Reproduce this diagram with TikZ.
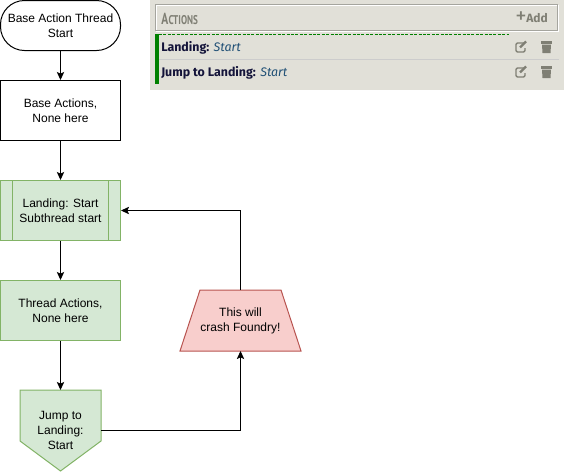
\documentclass[tikz,border=0pt]{standalone}
\usepackage{fontspec}
\setmainfont{Liberation Sans}
\newfontfamily\panelfont{Fira Sans}
\newfontfamily\headfont{PT Sans}
\usepackage{xcolor}
\usepackage{graphicx}
\usetikzlibrary{arrows.meta,positioning,calc,backgrounds}
\definecolor{panelbg}{HTML}{E1E0D8}
\definecolor{flowgreen}{HTML}{D5E8D4}
\definecolor{flowgreenline}{HTML}{82B366}
\definecolor{crashred}{HTML}{F8CECC}
\definecolor{crashline}{HTML}{B85450}
\definecolor{paneldark}{HTML}{14143A}
\definecolor{panelblue}{HTML}{1F4F75}
\definecolor{panelgrey}{HTML}{7F7F74}
\definecolor{panelgreen}{HTML}{008000}
\tikzset{
  flownode/.style={draw=black,fill=white,line width=0.75pt,align=center,font=\fontsize{9}{11.25}\selectfont,
    text=black,inner sep=0pt},
  flowbox/.style={flownode,rectangle,minimum width=90pt,minimum height=45pt},
  greenbox/.style={flowbox,fill=flowgreen,draw=flowgreenline},
  subbox/.style={greenbox,path picture={
    \draw[flowgreenline,line width=0.75pt]
      ($(path picture bounding box.north west)+(9pt,0)$) -- ($(path picture bounding box.south west)+(9pt,0)$)
      ($(path picture bounding box.north east)+(-9pt,0)$) -- ($(path picture bounding box.south east)+(-9pt,0)$);}},
  startnode/.style={flownode,rectangle,rounded corners=18pt,minimum width=90pt,minimum height=37.5pt},
  outlinenode/.style={flownode,rectangle,draw=none,fill=none,minimum width=#1},
  offpage/.style={outlinenode=60pt,minimum height=60pt},
  crashnode/.style={outlinenode=90pt,minimum height=45pt},
  flowline/.style={line width=0.75pt,-{Stealth[length=6pt,width=5.5pt,inset=1.2pt]}},
  rowtext/.style={anchor=west,inner sep=0pt,font=\panelfont\fontsize{9.3}{10}\selectfont,text=paneldark},
  iconbtn/.style={fill=panelgrey,draw=none},
}
\newcommand{\rowname}[2]{\textbf{#1:} {\color{panelblue}\itshape #2}}
\begin{document}
\begin{tikzpicture}[x=0.75pt,y=-0.75pt]
    \useasboundingbox (0,0) rectangle (564,472);
    % panel
    \fill[panelbg] (150,0) rectangle (564,90);
    \draw[white,line width=0.75pt] (156.5,5.5) rectangle (558.5,31.5);
    \draw[panelgrey!70,line width=0.75pt] (155.5,4.5) rectangle (557.5,30.5);
    \node[anchor=west,inner sep=0pt,text=panelgrey,font=\headfont\bfseries] (actionshead)
      at (161,19) {\scalebox{0.72}[1]{\fontsize{12}{10}\selectfont A\kern0.3pt{\fontsize{9.5}{10}\selectfont CTIONS}}};
    \node[anchor=east,inner sep=0pt,text=panelgrey,font=\panelfont\bfseries\fontsize{9}{10}\selectfont] (addlabel)
      at (548,18) {Add};
    \node[inner sep=0pt,text=panelgrey,font=\panelfont\fontsize{17}{10}\selectfont] (addplus)
      at (521,17.5) {+};
    \fill[panelgreen] (155,34) rectangle (159,84);
    \draw[panelgreen,line width=0.75pt,dash pattern=on 2.2pt off 1.1pt] (159,34.5) -- (509,34.5);
    \draw[black!20,line width=0.75pt] (159,59.5) -- (559,59.5);
    \node[rowtext] (landingrow) at (161,47.5) {\rowname{Landing}{Start}};
    \node[rowtext] (jumprow) at (161,72.5) {\rowname{Jump to Landing}{Start}};
    \foreach \y in {47,72} {
      % edit icon
      \draw[panelgrey,line width=1.1pt,rounded corners=1pt] (524,\y-4) -- (516,\y-4) -- (516,\y+5) -- (525,\y+5) -- (525,\y+1);
      \draw[panelgrey,line width=1.8pt] (520,\y+0.5) -- (526,\y-5.5);
      % trash icon
      \fill[iconbtn] (541,\y-6) rectangle (552,\y-3.5);
      \fill[iconbtn] (542,\y-2.5) -- (551,\y-2.5) -- (550.5,\y+6) -- (542.5,\y+6) -- cycle;
    }
    % flow
    \node[startnode] (threadstart) at (60.5,25.5) {Base Action Thread\\Start};
    \node[flowbox] (baseactions) at (60.5,110.5) {Base Actions,\\None here};
    \node[subbox] (landing) at (60.5,210.5) {Landing: Start\\Subthread start};
    \node[greenbox] (threadactions) at (60.5,310.5) {Thread Actions,\\None here};
    \node[offpage] (jump) at (60.5,430.5) {Jump to\\Landing:\\Start};
    \node[crashnode] (crash) at (240.5,320.5) {This will\\crash Foundry!};
    \begin{scope}[on background layer]
      \draw[fill=flowgreen,draw=flowgreenline,line width=0.75pt] (jump.north west) -- (jump.north east)
        -- ($(jump.south east)+(0,-30)$) -- (jump.south) -- ($(jump.south west)+(0,-30)$) -- cycle;
      \draw[fill=crashred,draw=crashline,line width=0.75pt] ($(crash.north west)+(20,0)$) -- ($(crash.north east)+(-20,0)$)
        -- (crash.south east) -- (crash.south west) -- cycle;
    \end{scope}
    \draw[flowline] (threadstart) -- (baseactions);
    \draw[flowline] (baseactions) -- (landing);
    \draw[flowline] (landing) -- (threadactions);
    \draw[flowline] (threadactions) -- (jump);
    \draw[flowline] (jump.east) -| (crash.south);
    \draw[flowline] (crash.north) |- (landing.east);
\end{tikzpicture}
\end{document}
